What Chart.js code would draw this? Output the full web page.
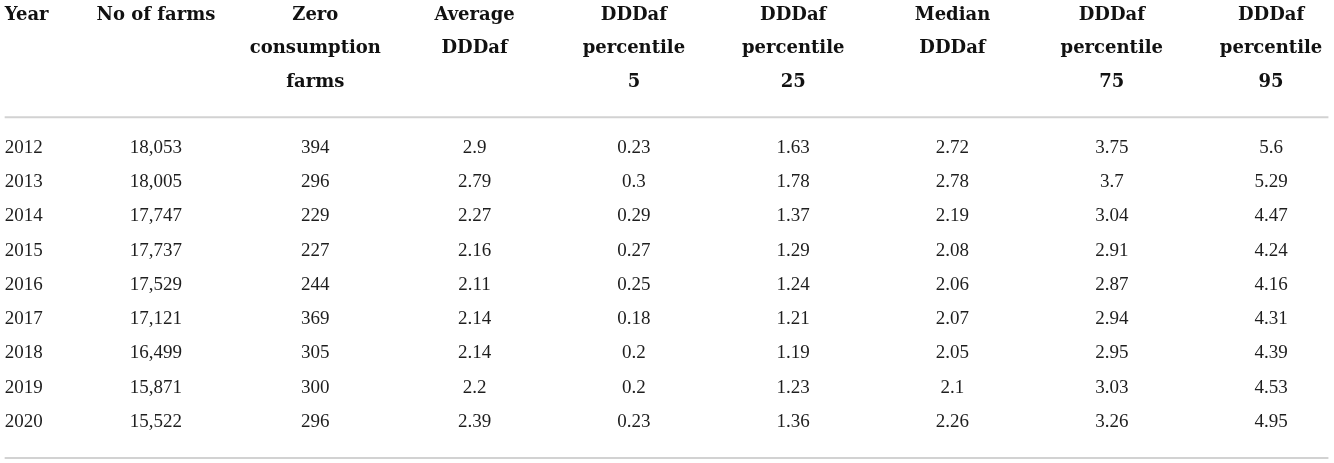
<!DOCTYPE html>
<html>
<head>
<meta charset="utf-8">
<script src="https://cdn.jsdelivr.net/npm/chart.js@4/dist/chart.umd.min.js"></script>
<style>
  html, body { margin: 0; padding: 0; background: #fff; }
  #wrap { width: 1334px; height: 463px; position: relative; }
</style>
</head>
<body>
<div id="wrap"><canvas id="tabela"></canvas></div>
<script>
// dados da tabela
const years = [2012, 2013, 2014, 2015, 2016, 2017, 2018, 2019, 2020];
const farms = [18053, 18005, 17747, 17737, 17529, 17121, 16499, 15871, 15522];
const zeroFarms = [394, 296, 229, 227, 244, 369, 305, 300, 296];
const avgDDDaf = [2.9, 2.79, 2.27, 2.16, 2.11, 2.14, 2.14, 2.2, 2.39];
const p5 = [0.23, 0.3, 0.29, 0.27, 0.25, 0.18, 0.2, 0.2, 0.23];
const p25 = [1.63, 1.78, 1.37, 1.29, 1.24, 1.21, 1.19, 1.23, 1.36];
const medianDDDaf = [2.72, 2.78, 2.19, 2.08, 2.06, 2.07, 2.05, 2.1, 2.26];
const p75 = [3.75, 3.7, 3.04, 2.91, 2.87, 2.94, 2.95, 3.03, 3.26];
const p95 = [5.6, 5.29, 4.47, 4.24, 4.16, 4.31, 4.39, 4.53, 4.95];

const headers = [
  ['Year'],
  ['No of farms'],
  ['Zero', 'consumption', 'farms'],
  ['Average', 'DDDaf'],
  ['DDDaf', 'percentile', '5'],
  ['DDDaf', 'percentile', '25'],
  ['Median', 'DDDaf'],
  ['DDDaf', 'percentile', '75'],
  ['DDDaf', 'percentile', '95'],
];

const columns = [years, farms, zeroFarms, avgDDDaf, p5, p25, medianDDDaf, p75, p95];

// layout (valores de escala, nao dados)
const colPos = [0.05, 1, 2, 3, 4, 5, 6, 7, 8];
const headerRows = [-3.88, -2.91, -1.93];
const ruleTop = -0.9;
const ruleBottom = 9.05;
const ruleFrom = 0.05, ruleTo = 8.36;

function fmt(col, v) {
  if (col === 1) return v.toLocaleString('en-US');
  return String(v);
}

const datasets = columns.map((values, c) => ({
  type: 'scatter',
  label: headers[c].join(' '),
  data: values.map((v, r) => ({ x: colPos[c], y: r })),
  pointRadius: 0,
  textos: values.map(v => fmt(c, v)),
  alinhamento: c === 0 ? 'left' : 'center',
}));

[ruleTop, ruleBottom].forEach(y => {
  datasets.push({
    type: 'line',
    label: 'rule',
    data: [{ x: ruleFrom, y: y }, { x: ruleTo, y: y }],
    borderColor: '#d2d2d2',
    borderWidth: 2,
    pointRadius: 0,
    fill: false,
  });
});

// plugin que escreve o texto das celulas
const textoTabela = {
  id: 'textoTabela',
  afterDatasetsDraw(chart) {
    const ctx = chart.ctx;
    const x = chart.scales.x, y = chart.scales.y;
    ctx.save();
    ctx.textBaseline = 'middle';

    // cabecalho
    ctx.fillStyle = '#111';
    ctx.font = 'bold 18px "DejaVu Serif"';
    headers.forEach((linhas, c) => {
      ctx.textAlign = c === 0 ? 'left' : 'center';
      linhas.forEach((t, k) => {
        ctx.fillText(t, x.getPixelForValue(colPos[c]), y.getPixelForValue(headerRows[k]));
      });
    });

    // corpo
    ctx.fillStyle = '#1e1e1e';
    ctx.font = '19px "Liberation Serif"';
    chart.data.datasets.forEach((ds, i) => {
      if (!ds.textos) return;
      const meta = chart.getDatasetMeta(i);
      ctx.textAlign = ds.alinhamento;
      meta.data.forEach((pt, r) => {
        ctx.fillText(ds.textos[r], pt.x, pt.y);
      });
    });
    ctx.restore();
  }
};

new Chart(document.getElementById('tabela'), {
  type: 'scatter',
  data: { datasets: datasets },
  options: {
    responsive: true,
    maintainAspectRatio: false,
    animation: false,
    layout: { padding: 0 },
    plugins: { legend: { display: false }, tooltip: { enabled: false } },
    scales: {
      x: { type: 'linear', min: 0.0207, max: 8.395, display: false },
      y: { type: 'linear', reverse: true, min: -4.32, max: 9.197, display: false },
    },
  },
  plugins: [textoTabela],
});
</script>
</body>
</html>
